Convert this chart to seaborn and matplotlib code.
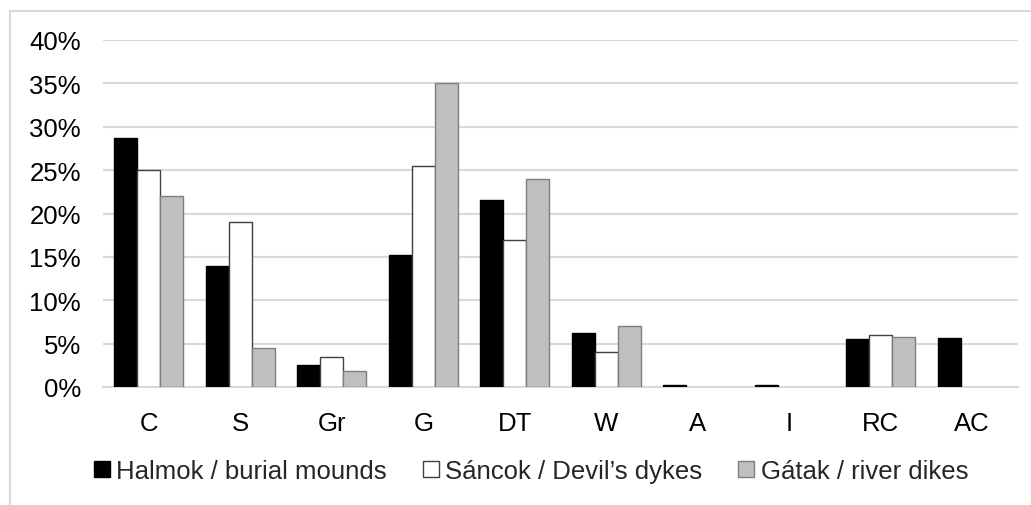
import matplotlib
matplotlib.use("Agg")
import matplotlib.pyplot as plt
import seaborn as sns
import pandas as pd
from matplotlib.lines import Line2D
from matplotlib.ticker import PercentFormatter

categories = ["C", "S", "Gr", "G", "DT", "W", "A", "I", "RC", "AC"]
series_names = ["Halmok / burial mounds", "Sáncok / Devil\u2019s dykes", "Gátak / river dikes"]
halmok = [28.7, 14.0, 2.5, 15.2, 21.5, 6.2, 0.2, 0.2, 5.5, 5.7]
sancok = [25.0, 19.0, 3.5, 25.5, 17.0, 4.0, 0.0, 0.0, 6.0, 0.0]
gatak = [22.0, 4.5, 1.8, 35.0, 24.0, 7.0, 0.0, 0.0, 5.8, 0.0]

rows = []
for name, vals in zip(series_names, [halmok, sancok, gatak]):
    for c, v in zip(categories, vals):
        rows.append({"cat": c, "series": name, "value": v / 100.0})
df = pd.DataFrame(rows)

sns.set_theme(style="white")
plt.rcParams["font.family"] = ["Liberation Sans", "DejaVu Sans"]

fills = ["#000000", "#ffffff", "#bfbfbf"]
edges = ["#000000", "#404040", "#7f7f7f"]

fig = plt.figure(figsize=(10.31, 5.06), dpi=100)
ax = fig.add_axes([103 / 1031, 1 - 388 / 506, (1018 - 103) / 1031, (388 - 41) / 506])

sns.barplot(data=df, x="cat", y="value", hue="series", hue_order=series_names,
            palette=fills, width=0.75, ax=ax, legend=False, saturation=1)

for i, container in enumerate(ax.containers):
    for bar in container:
        if bar.get_height() <= 0:
            bar.set_visible(False)
            continue
        bar.set_edgecolor(edges[i])
        bar.set_linewidth(1.0)
        bar.set_zorder(3)

ax.set_ylim(0, 0.4)
ax.set_yticks([i * 0.05 for i in range(9)])
ax.yaxis.set_major_formatter(PercentFormatter(1.0, decimals=0))
ax.set_xlim(-0.5, len(categories) - 0.5)
ax.grid(axis="y", color="#d9d9d9", linewidth=1.5, zorder=0)
ax.set_axisbelow(True)
for s in ["top", "right", "left"]:
    ax.spines[s].set_visible(False)
ax.spines["bottom"].set_color("#d9d9d9")
ax.spines["bottom"].set_linewidth(1.5)
ax.set_xlabel("")
ax.set_ylabel("")
ax.tick_params(axis="both", length=0, labelsize=18.5, colors="#000000")
ax.tick_params(axis="x", pad=17)
ax.tick_params(axis="y", pad=16)

handles = [plt.Rectangle((0, 0), 1, 1, facecolor=f, edgecolor=e, linewidth=1.0)
           for f, e in zip(fills, edges)]
fig.legend(handles, series_names, loc="center", bbox_to_anchor=(0.515, 1 - 472 / 506),
           ncol=3, frameon=False, fontsize=18.5, handlelength=0.62, handleheight=0.62,
           handletextpad=0.25, columnspacing=1.4)

# chart frame lines
fig.add_artist(Line2D([10 / 1031, 10 / 1031], [0, 1 - 12 / 506], transform=fig.transFigure,
                      color="#d9d9d9", linewidth=1.5))
fig.add_artist(Line2D([10 / 1031, 1], [1 - 12 / 506, 1 - 12 / 506], transform=fig.transFigure,
                      color="#d9d9d9", linewidth=1.5))

fig.savefig("out.png", dpi=100, facecolor="white")
